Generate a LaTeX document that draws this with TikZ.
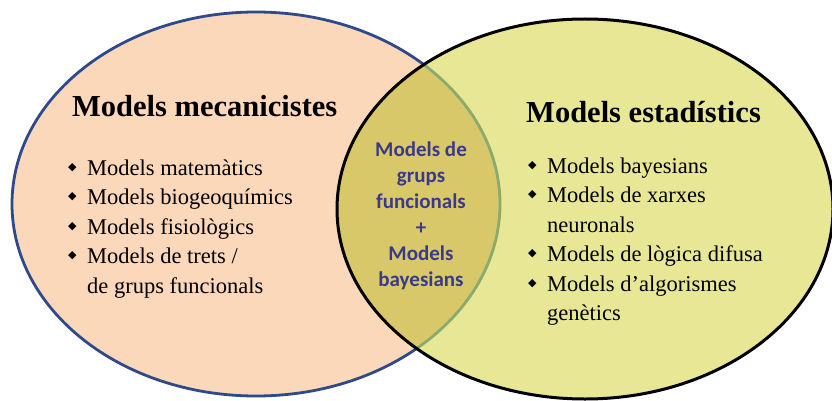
\documentclass[tikz,border=0pt]{standalone}
\usepackage{fontspec}
\setmainfont{Liberation Serif}
\newfontfamily\calfont{Carlito}
\newfontfamily\symfont{DejaVu Sans}
\usepackage{tikz}
\definecolor{peachfill}{HTML}{FCD8BB}
\definecolor{peachline}{HTML}{2F4A8A}
\definecolor{limefill}{HTML}{E8E795}
\definecolor{lensfill}{HTML}{D8C86A}
\definecolor{lensline}{HTML}{8BAA6E}
\definecolor{mixtext}{HTML}{3A3A8C}
\newcommand{\dia}{\makebox[19pt][l]{\raisebox{5pt}{\symfont\fontsize{11}{11}\selectfont ◆}}}
\tikzset{
  title/.style={anchor=base west, inner sep=0pt, font=\bfseries\fontsize{30.5}{34}\selectfont},
  items/.style={anchor=north west, inner sep=0pt, font=\fontsize{22.5}{29.5}\selectfont},
}

\begin{document}
\begin{tikzpicture}[x=1pt,y=-1pt]
        \useasboundingbox (0,0) rectangle (832,401);
        \coordinate (L) at (256,204);
        \coordinate (R) at (585,209);

        % the two sets
        \draw[peachline, line width=2.8pt, fill=peachfill] (L) ellipse [x radius=244pt, y radius=192pt];
        \fill[limefill] (R) ellipse [x radius=248pt, y radius=190pt];
        \begin{scope}
                \clip (R) ellipse [x radius=248pt, y radius=190pt];
                \draw[lensline, line width=2.8pt, fill=lensfill] (L) ellipse [x radius=244pt, y radius=192pt];
        \end{scope}
        \draw[black, line width=3pt] (R) ellipse [x radius=248pt, y radius=190pt];

        \node (mec) [title] at (72,117) {Models mecanicistes};
        \node (est) [title] at (526,122) {Models estadístics};

        \node (meclist) [items] at (68,154.5) {\begin{tabular}{@{}l@{}l@{}}
                \dia & Models matemàtics\\
                \dia & Models biogeoquímics\\
                \dia & Models fisiològics\\
                \dia & Models de trets /\\
                     & de grups funcionals
        \end{tabular}};

        \node (estlist) [items] at (528,152.5) {\begin{tabular}{@{}l@{}l@{}}
                \dia & Models bayesians\\
                \dia & Models de xarxes\\
                     & neuronals\\
                \dia & Models de lògica difusa\\
                \dia & Models d’algorismes\\
                     & genètics
        \end{tabular}};

        \node (mix) [anchor=north, inner sep=0pt, align=center, text=mixtext,
                font=\calfont\bfseries\fontsize{21}{26}\selectfont] at (421,142)
                {Models de\\grups\\funcionals\\+\\Models\\bayesians};
\end{tikzpicture}
\end{document}
